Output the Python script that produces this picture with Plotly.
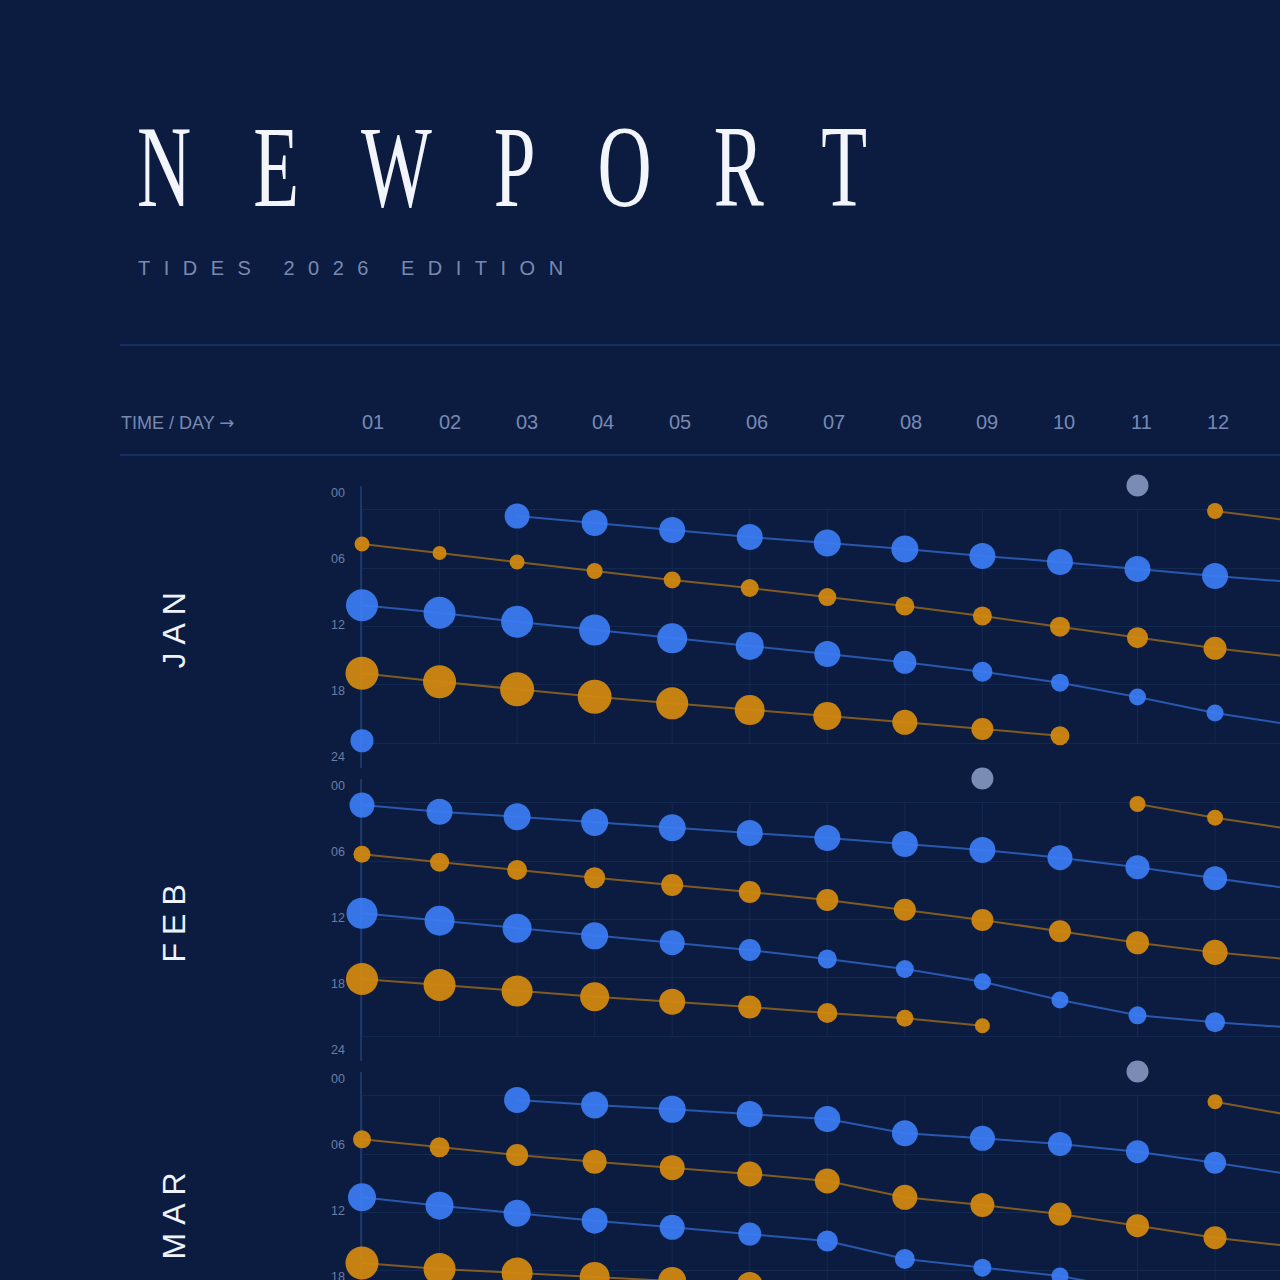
import plotly.graph_objects as go

# ---------------- data ----------------
days = list(range(1, 14))
day_labels = ["01", "02", "03", "04", "05", "06", "07", "08", "09", "10", "11", "12"]
hour_ticks = [0, 6, 12, 18, 24]
hour_labels = ["00", "06", "12", "18", "24"]
months = ["JAN", "FEB", "MAR"]

# JANUARY  (hours of day, tide heights in ft)
jan_high1_hr = [23.75, None, 0.64, 1.36, 2.08, 2.80, 3.41, 4.03, 4.75, 5.37, 6.09, 6.81, 7.42]
jan_high1_ft = [2.88, None, 3.13, 3.25, 3.25, 3.25, 3.38, 3.38, 3.25, 3.25, 3.25, 3.25, 3.25]
jan_high2_hr = [9.82, 10.58, 11.51, 12.36, 13.21, 14.00, 14.83, 15.68, 16.65, 17.78, 19.25, 20.90, 22.13]
jan_high2_ft = [4.00, 4.00, 4.00, 3.88, 3.75, 3.50, 3.25, 2.88, 2.50, 2.25, 2.13, 2.13, 2.13]
jan_low1_hr = [3.52, 4.44, 5.37, 6.29, 7.22, 8.04, 8.97, 9.89, 10.92, 12.02, 13.15, 14.24, 15.14]
jan_low1_ft = [1.88, 1.75, 1.88, 2.00, 2.13, 2.25, 2.25, 2.38, 2.38, 2.50, 2.63, 2.88, 3.00]
jan_low2_hr = [16.81, 17.68, 18.46, 19.22, 19.90, 20.59, 21.21, 21.85, 22.54, 23.23, None, 0.12, 1.15]
jan_low2_ft = [4.13, 4.13, 4.25, 4.25, 4.00, 3.75, 3.50, 3.13, 2.75, 2.38, None, 2.00, 2.13]
jan_moon_day = 11

# FEBRUARY
feb_high1_hr = [0.23, 0.92, 1.43, 2.01, 2.56, 3.11, 3.62, 4.24, 4.85, 5.65, 6.63, 7.76, 8.86]
feb_high1_ft = [3.13, 3.25, 3.38, 3.38, 3.38, 3.25, 3.25, 3.25, 3.25, 3.13, 3.00, 3.00, 3.00]
feb_high2_hr = [11.36, 12.13, 12.91, 13.68, 14.39, 15.14, 16.06, 17.09, 18.40, 20.28, 21.85, 22.57, 23.11]
feb_high2_ft = [3.88, 3.75, 3.63, 3.38, 3.13, 2.75, 2.38, 2.25, 2.13, 2.13, 2.25, 2.50, 2.63]
feb_low1_hr = [5.30, 6.12, 6.91, 7.70, 8.46, 9.17, 10.00, 10.99, 12.05, 13.21, 14.39, 15.38, 16.12]
feb_low1_ft = [2.13, 2.38, 2.50, 2.63, 2.75, 2.75, 2.75, 2.75, 2.75, 2.75, 2.88, 3.13, 3.13]
feb_low2_hr = [18.12, 18.74, 19.36, 19.94, 20.46, 21.00, 21.62, 22.16, 22.93, None, 0.12, 1.53, 2.73]
feb_low2_ft = [4.00, 4.00, 3.88, 3.63, 3.25, 2.88, 2.50, 2.13, 1.88, None, 2.00, 2.00, 2.13]
feb_moon_day = 9

# MARCH
mar_high1_hr = [None, None, 0.43, 0.95, 1.39, 1.87, 2.39, 3.86, 4.37, 4.96, 5.75, 6.88, 8.11]
mar_high1_ft = [None, None, 3.25, 3.38, 3.38, 3.25, 3.25, 3.25, 3.13, 3.00, 2.88, 2.75, 2.63]
mar_high2_hr = [10.44, 11.30, 12.08, 12.84, 13.52, 14.21, 14.93, 16.78, 17.68, 18.53, 20.00, 21.00, 22.10]
mar_high2_ft = [3.50, 3.50, 3.38, 3.25, 3.13, 2.88, 2.63, 2.50, 2.25, 2.13, 2.13, 2.25, 2.38]
mar_low1_hr = [4.47, 5.30, 6.09, 6.78, 7.39, 8.04, 8.76, 10.44, 11.23, 12.16, 13.36, 14.59, 15.50]
mar_low1_ft = [2.25, 2.50, 2.75, 3.00, 3.13, 3.13, 3.13, 3.13, 3.00, 2.88, 2.88, 2.88, 2.75]
mar_low2_hr = [17.19, 17.81, 18.22, 18.63, 19.04, 19.46, 20.20, 20.80, 21.40, 22.00, None, 0.61, 2.04]
mar_low2_ft = [4.13, 4.00, 3.88, 3.75, 3.50, 3.25, 3.00, 2.75, 2.50, 2.25, None, 1.88, 2.00]
mar_moon_day = 11

month_tracks = [
    [(jan_high1_hr, jan_high1_ft, "high"), (jan_high2_hr, jan_high2_ft, "high"),
     (jan_low1_hr, jan_low1_ft, "low"), (jan_low2_hr, jan_low2_ft, "low")],
    [(feb_high1_hr, feb_high1_ft, "high"), (feb_high2_hr, feb_high2_ft, "high"),
     (feb_low1_hr, feb_low1_ft, "low"), (feb_low2_hr, feb_low2_ft, "low")],
    [(mar_high1_hr, mar_high1_ft, "high"), (mar_high2_hr, mar_high2_ft, "high"),
     (mar_low1_hr, mar_low1_ft, "low"), (mar_low2_hr, mar_low2_ft, "low")],
]
moon_days = [jan_moon_day, feb_moon_day, mar_moon_day]

# ---------------- style ----------------
W = 1280            # visible page width
VIEW_H = 1280       # visible page height
H = 1370            # drawn canvas height (bottom is cropped by the page)
BG = "#0b1c40"
GRID = "#13294f"
AXIS = "#1d3868"
RULE = "#1c3669"
BLUE = "#3b7cf4"
ORANGE = "#d4890e"
MOON = "#7b8cb4"
MUTED = "#7889b2"
HOURC = "#6b7ca4"
SANS = "Liberation Sans, Arial, sans-serif"
SERIF = "Liberation Serif, Times New Roman, serif"

LINE_COL = {"high": "rgba(59,124,244,0.62)", "low": "rgba(212,137,14,0.58)"}
DOT_COL = {"high": BLUE, "low": ORANGE}
PX_PER_FT = 8.0

Y_LO, Y_HI = -2.5, 26.5          # full panel hour span
PANEL_TOP = [485.5, 778.5, 1071.5]
PANEL_H = 282.0
X_LEFT = 362.0
PX_PER_DAY = 77.55
MOON_ROW = -2.5
HEAD_X0, HEAD_STEP = 373.0, 76.8

px_per_hr = PANEL_H / (Y_HI - Y_LO)
x_range = [1, 1 + (W - X_LEFT) / PX_PER_DAY]

def py(px):
    return 1 - px / H

fig = go.Figure()
layout_axes = {}
shapes = []
annotations = []

for i, m in enumerate(months):
    n = "" if i == 0 else str(i + 1)
    xa, ya = "x" + n, "y" + n
    top = PANEL_TOP[i]
    bottom = top + PANEL_H
    layout_axes["xaxis" + n] = dict(
        domain=[X_LEFT / W, 1], range=x_range, anchor=ya,
        showgrid=False, showticklabels=False, zeroline=False, showline=False,
    )
    layout_axes["yaxis" + n] = dict(
        domain=[py(bottom), py(top)], range=[Y_HI, Y_LO], anchor=xa,
        tickvals=hour_ticks, showticklabels=False, ticks="",
        showgrid=True, gridcolor=GRID, gridwidth=1, zeroline=False,
        showline=True, linecolor=AXIS, linewidth=1.5, layer="below traces",
    )
    # vertical day grid lines (only over the 0-24 h band)
    for d in days:
        shapes.append(dict(type="line", xref=xa, yref=ya, x0=d, x1=d,
                           y0=hour_ticks[0], y1=hour_ticks[-1],
                           line=dict(color=GRID, width=1), layer="below"))
    # tide tracks
    for hrs, fts, kind in month_tracks[i]:
        sizes = [PX_PER_FT * f if f is not None else 0 for f in fts]
        fig.add_trace(go.Scatter(
            x=days, y=hrs, xaxis=xa, yaxis=ya, mode="lines+markers",
            line=dict(color=LINE_COL[kind], width=2),
            marker=dict(size=sizes, color=DOT_COL[kind], opacity=0.93, line=dict(width=0)),
            connectgaps=False, cliponaxis=False, hoverinfo="skip", showlegend=False,
        ))
    # moon marker
    fig.add_trace(go.Scatter(
        x=[moon_days[i]], y=[MOON_ROW], xaxis=xa, yaxis=ya, mode="markers",
        marker=dict(size=22, color=MOON, line=dict(width=0)),
        cliponaxis=False, hoverinfo="skip", showlegend=False,
    ))
    # hour labels
    for k, lab in enumerate(hour_labels):
        frac = 0.026 + 0.2345 * k
        annotations.append(dict(
            text=lab, xref="paper", yref=ya, x=347 / W, y=Y_LO + frac * (Y_HI - Y_LO),
            xanchor="right", yanchor="middle", showarrow=False,
            font=dict(family=SANS, size=12.5, color=HOURC),
        ))
    # month label
    annotations.append(dict(
        text="<span style='letter-spacing:8px'>" + m + "</span>",
        xref="paper", yref="paper", x=173 / W, y=py(top + PANEL_H / 2),
        xanchor="center", yanchor="middle", textangle=-90, showarrow=False,
        font=dict(family=SANS, size=32, color="#eef2fb"),
    ))

# header row
for k, lab in enumerate(day_labels):
    annotations.append(dict(
        text=lab, xref="paper", yref="paper", x=(HEAD_X0 + HEAD_STEP * k) / W, y=py(422),
        xanchor="center", yanchor="middle", showarrow=False,
        font=dict(family=SANS, size=20, color=MUTED),
    ))
annotations.append(dict(
    text="TIME / DAY <span style='font-family:DejaVu Sans'>\u2192</span>",
    xref="paper", yref="paper", x=119 / W, y=py(422),
    xanchor="left", yanchor="middle", showarrow=False,
    font=dict(family=SANS, size=18, color=MUTED),
))

# title block
annotations.append(dict(
    text="<span style='letter-spacing:62px'>NEWPORT</span>",
    xref="paper", yref="paper", x=135 / W, y=py(180),
    xanchor="left", yanchor="middle", showarrow=False,
    font=dict(family=SERIF, size=75, color="#f2f5fc"),
))
annotations.append(dict(
    text="<span style='letter-spacing:13.5px'>TIDES 2026 EDITION</span>",
    xref="paper", yref="paper", x=136 / W, y=py(268),
    xanchor="left", yanchor="middle", showarrow=False,
    font=dict(family=SANS, size=20, color=MUTED),
))

for ypx in (345, 455):
    shapes.append(dict(type="line", xref="paper", yref="paper",
                       x0=120 / W, x1=1, y0=py(ypx), y1=py(ypx),
                       line=dict(color=RULE, width=1.5)))

fig.update_layout(
    width=W, height=H, autosize=False,
    margin=dict(l=0, r=0, t=0, b=0),
    paper_bgcolor=BG, plot_bgcolor=BG,
    shapes=shapes, annotations=annotations,
    showlegend=False, hovermode=False,
    **layout_axes,
)

post_js = """
document.documentElement.style.margin = '0';
document.documentElement.style.overflow = 'hidden';
document.body.style.margin = '0';
document.body.style.padding = '0';
document.body.style.background = '%s';
document.body.style.overflow = 'hidden';
var gd = document.getElementById('{plot_id}');
gd.style.height = '%dpx';
gd.style.overflow = 'hidden';
function stretchTitle(){
  gd.querySelectorAll('.annotation-text').forEach(function(t){
    if(t.textContent.replace(/\\s/g,'') === 'NEWPORT' && !t.getAttribute('data-st')){
      var y = parseFloat(t.getAttribute('y')) || 0;
      var prev = t.getAttribute('transform') || '';
      t.setAttribute('transform', prev + ' translate(0,' + y + ') scale(1,1.56) translate(0,' + (-y) + ')');
      t.setAttribute('data-st', '1');
    }
  });
}
stretchTitle();
if(gd.on){ gd.on('plotly_afterplot', stretchTitle); }
""" % (BG, VIEW_H)

fig.write_html("out.html", post_script=post_js, config={"displayModeBar": False})
